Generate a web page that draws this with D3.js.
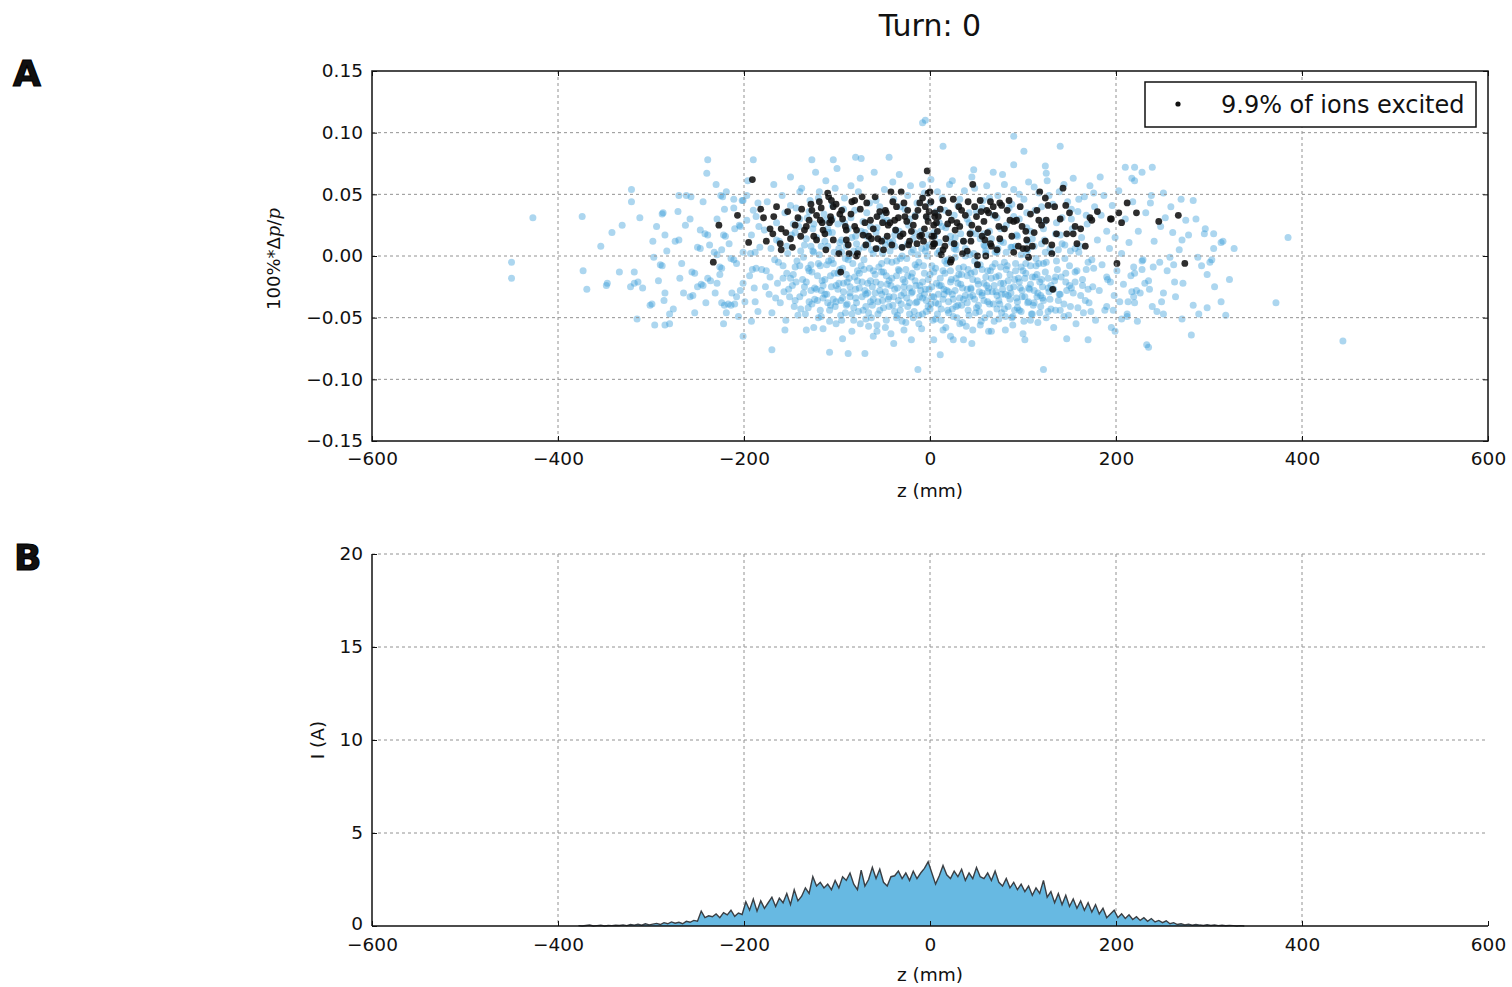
<!DOCTYPE html>
<html>
<head>
<meta charset="utf-8">
<script src="https://cdn.jsdelivr.net/npm/d3@7"></script>
<style>
body{margin:0;background:#fff;}
svg text{font-family:"DejaVu Sans",sans-serif;fill:#111;}
</style>
</head>
<body>
<svg id="chart" width="1512" height="987"></svg>
<script>
// ticks
var zTicks = [-600, -400, -200, 0, 200, 400, 600];
var dpTicks = [-0.15, -0.10, -0.05, 0.00, 0.05, 0.10, 0.15];
var currentTicks = [0, 5, 10, 15, 20];

// all ions, [z (mm), 100%*dp/p]
var ionsAll = [
  [-450,-0.005],[-450,-0.018],[-427,0.031],[-374,0.032],[-373,-0.012],[-369,-0.027],[-354,0.008],[-342,0.019],
  [-348,-0.024],[-347,-0.022],[-331,0.025],[-334,-0.013],[-321,0.054],[-321,0.044],[-312,0.031],[-318,-0.013],
  [-322,-0.025],[-318,-0.022],[-314,-0.021],[-309,-0.026],[-315,-0.051],[-301,-0.040],[-299,-0.039],[-296,-0.056],
  [-285,-0.056],[-280,-0.055],[-280,-0.047],[-286,-0.036],[-285,-0.030],[-294,0.024],[-287,0.035],[-288,0.034],
  [-285,0.017],[-297,-0.001],[-290,-0.007],[-288,-0.008],[-271,0.036],[-263,0.025],[-274,0.012],[-270,0.013],
  [-267,-0.006],[-269,-0.018],[-256,-0.013],[-253,-0.014],[-262,0.049],[-257,0.048],[-244,0.044],[-239,0.078],
  [-240,0.067],[-230,0.058],[-221,0.038],[-225,0.049],[-223,0.048],[-211,0.046],[-202,0.045],[-190,0.078],
  [-242,0.018],[-239,0.017],[-250,0.007],[-247,0.006],[-237,0.009],[-220,0.016],[-222,0.017],[-210,0.022],
  [-205,0.025],[-232,0.003],[-229,0.001],[-214,-0.002],[-211,-0.003],[-224,-0.010],[-226,-0.009],[-239,-0.018],
  [-236,-0.020],[-250,-0.025],[-246,-0.023],[-255,-0.032],[-258,-0.033],[-244,-0.024],[-229,-0.022],[-231,-0.030],
  [-217,-0.039],[-214,-0.040],[-210,-0.039],[-224,-0.038],[-219,-0.046],[-222,-0.055],[-208,-0.033],[-204,-0.028],
  [-201,-0.022],[-201,-0.065],[-192,-0.053],[-188,-0.037],[-191,-0.011],[-187,-0.010],[-193,0.002],[-188,0.003],
  [-197,0.029],[-190,0.037],[-201,0.045],[-197,0.049],[-185,0.043],[-184,0.024],
  [210,0.072],[220,0.072],[228,0.068],[239,0.072],[217,0.063],[220,0.061],[251,0.051],[270,0.046],
  [283,0.045],[238,0.049],[237,0.043],[253,0.031],[261,0.019],[271,0.013],[275,0.029],[295,0.018],
  [305,0.018],[313,0.011],[327,0.006],[305,0.006],[385,0.015],[288,-0.001],[301,-0.005],[303,-0.003],
  [258,-0.001],[262,-0.007],[247,-0.005],[240,-0.009],[229,-0.003],[228,-0.011],[219,-0.009],[220,-0.014],
  [298,-0.015],[322,-0.019],[263,-0.021],[235,-0.020],[231,-0.022],[217,-0.029],[222,-0.028],[226,-0.030],
  [219,-0.033],[251,-0.030],[249,-0.037],[239,-0.041],[213,-0.037],[220,-0.038],[212,-0.047],[206,-0.051],
  [223,-0.053],[251,-0.047],[271,-0.051],[289,-0.047],[298,-0.042],[313,-0.037],[372,-0.038],[281,-0.064],
  [233,-0.072],[235,-0.074],[199,-0.061],[190,-0.017],[194,-0.021],[190,-0.041],[197,-0.044],[444,-0.069],
  [122,-0.092],[90,0.097],[101,0.085],[140,0.089],[-5,0.110],[-8,0.108],[14,0.089],[-127,0.078],
  [-104,0.078],[-80,0.080],[-74,0.079],[-44,0.080],[-108,-0.078],[-88,-0.079],[-70,-0.079],[-13,-0.092],
  [11,-0.080],[-39,-0.071],[-20,-0.068],[-170,-0.076],[-156,-0.060],[-133,-0.060],[-115,-0.059],[-94,-0.067],
  [-61,-0.065],[-57,-0.061],[4,-0.068],[22,-0.065],[36,-0.068],[124,0.073],[125,0.067],[47,0.070],
  [68,0.068],[90,0.074],[183,0.064],[45,-0.071],[25,-0.068],[102,-0.068],[147,-0.067],[170,-0.068],
  [63,-0.061],[81,-0.060],
  [-229,0.030],[-226,-0.015],[-224,0.005],[-221,-0.040],[-219,0.052],[-216,0.010],[-213,-0.030],[-211,0.039],
  [-208,-0.006],[-206,-0.049],[-204,0.024],[-201,0.003],[-199,-0.037],[-196,0.061],[-194,-0.016],[-192,0.017],
  [-189,-0.026],[-187,0.032],[-185,-0.045],[-183,0.007],[-181,-0.011],
  [-178,0.021],[-176,-0.012],[-175,0.044],[-173,-0.031],[-171,0.006],[-170,-0.046],[-168,0.058],[-167,-0.003],
  [-165,0.027],[-164,-0.022],[-162,0.012],[-161,-0.038],[-159,0.049],[-158,-0.008],[-156,0.035],[-155,-0.052],
  [-153,0.002],[-152,-0.027],[-150,0.064],[-149,0.017],[-147,-0.015],[-146,-0.041],[-144,0.039],[-143,-0.004],
  [-141,0.024],[-140,-0.033],[-138,0.055],[-137,-0.019],[-135,0.009],[-134,-0.047],[-132,0.031],[-131,-0.010],
  [-129,0.045],[-128,-0.028],[-126,0.004],[-125,-0.058],[-123,0.068],[-122,0.015],[-121,-0.036],[-120,-0.006],
  [-177,-0.025],[-172,-0.017],[-166,-0.034],[-163,-0.005],[-157,-0.029],[-154,-0.014],[-148,-0.024],[-145,-0.009],
  [-139,-0.043],[-136,-0.001],[-133,-0.021],[-130,-0.037],[-127,-0.013],[-124,-0.026],
  [-119,0.052],[-118,-0.044],[-117,0.008],[-116,-0.020],[-114,0.034],[-113,-0.031],[-112,0.061],[-111,-0.007],
  [-109,0.019],[-108,-0.053],[-107,-0.016],[-105,0.041],[-104,-0.035],[-103,0.003],[-101,-0.024],[-100,0.071],
  [-99,0.026],[-97,-0.011],[-96,-0.048],[-95,0.013],[-93,-0.029],[-92,0.047],[-91,-0.002],[-89,-0.039],
  [-88,0.022],[-87,-0.018],[-85,0.057],[-84,-0.061],[-83,-0.006],[-81,0.037],[-80,-0.027],[-79,0.010],
  [-77,-0.045],[-76,-0.014],[-75,0.063],[-73,-0.033],[-72,0.028],[-71,-0.003],[-69,-0.051],[-68,0.016],
  [-67,-0.022],[-65,0.043],[-64,-0.037],[-63,0.005],[-61,-0.012],[-60,0.068],
  [-117,-0.028],[-110,-0.038],[-106,-0.003],[-102,-0.041],[-98,-0.022],[-94,-0.034],[-90,-0.015],[-86,-0.030],
  [-82,-0.042],[-78,-0.020],[-74,-0.008],[-70,-0.028],[-66,-0.046],[-62,-0.025],
  [-59,-0.030],[-58,0.019],[-57,-0.056],[-55,-0.009],[-54,0.040],[-53,-0.023],[-51,0.002],[-50,-0.042],
  [-49,0.054],[-47,-0.016],[-46,0.029],[-45,-0.035],[-43,0.011],[-42,-0.063],[-41,-0.005],[-39,0.046],
  [-38,-0.027],[-37,0.021],[-35,-0.048],[-34,-0.011],[-33,0.066],[-31,-0.032],[-30,0.007],[-29,-0.019],
  [-27,0.038],[-26,-0.054],[-25,-0.002],[-23,0.025],[-22,-0.038],[-21,0.057],[-19,-0.014],[-18,0.014],
  [-17,-0.045],[-15,-0.024],[-14,0.043],[-13,0.001],[-11,-0.033],[-10,0.020],[-9,-0.059],[-7,-0.008],
  [-6,0.051],[-5,-0.027],[-3,0.031],[-2,-0.041],[-1,0.009],
  [-56,-0.037],[-52,-0.013],[-48,-0.029],[-44,-0.020],[-40,-0.040],[-36,-0.004],[-32,-0.044],[-28,-0.025],
  [-24,-0.016],[-20,-0.030],[-16,-0.007],[-12,-0.048],[-8,-0.021],[-4,-0.036],[0,-0.015],
  [1,0.062],[2,-0.025],[3,-0.052],[5,0.016],[6,-0.010],[7,0.036],[9,-0.039],[10,0.004],
  [11,-0.018],[13,0.047],[14,-0.060],[15,-0.031],[17,0.023],[18,-0.006],[19,-0.044],[21,0.058],
  [22,-0.021],[23,0.011],[25,-0.035],[26,0.033],[27,-0.001],[29,-0.050],[30,0.041],[31,-0.015],
  [33,0.018],[34,-0.040],[35,-0.026],[37,0.053],[38,0.006],[39,-0.057],[41,-0.011],[42,0.027],
  [43,-0.033],[45,0.064],[46,-0.019],[47,0.002],[49,-0.046],[50,0.036],[51,-0.008],[53,-0.029],
  [54,0.014],[55,-0.053],[57,0.045],[58,-0.022],[59,0.008],
  [4,-0.033],[8,-0.047],[12,-0.024],[16,-0.014],[20,-0.029],[24,-0.043],[28,-0.018],[32,-0.034],
  [36,-0.009],[40,-0.038],[44,-0.027],[48,-0.013],[52,-0.040],[56,-0.032],[60,-0.017],
  [61,0.057],[62,-0.037],[64,0.020],[65,-0.012],[66,-0.061],[68,0.033],[69,-0.024],[70,0.003],
  [72,-0.043],[73,0.049],[74,-0.016],[76,0.012],[77,-0.031],[78,0.066],[80,-0.005],[81,-0.049],
  [82,0.025],[84,-0.020],[85,0.039],[86,-0.035],[88,0.007],[89,-0.056],[90,0.054],[92,-0.012],
  [93,0.017],[94,-0.042],[96,0.030],[97,-0.026],[98,0.001],[100,-0.063],[101,0.046],[102,-0.018],
  [104,0.023],[105,-0.038],[106,0.060],[108,-0.008],[109,-0.047],[110,0.014],[112,-0.028],[113,0.037],
  [114,-0.002],[116,-0.054],[117,0.051],[118,-0.021],[120,0.010],
  [63,-0.026],[67,-0.009],[71,-0.029],[75,-0.039],[79,-0.022],[83,-0.008],[87,-0.030],[91,-0.044],
  [95,-0.018],[99,-0.033],[103,-0.006],[107,-0.027],[111,-0.040],[115,-0.015],[119,-0.032],
  [121,-0.034],[123,0.028],[124,-0.013],[126,0.061],[127,-0.045],[129,0.006],[130,-0.024],[132,0.042],
  [133,-0.058],[135,0.018],[136,-0.004],[138,-0.036],[139,0.052],[141,-0.017],[142,0.031],[144,-0.049],
  [145,0.009],[147,-0.028],[148,0.044],[150,-0.008],[151,-0.041],[153,0.022],[154,0.063],[156,-0.021],
  [157,-0.055],[159,0.036],[160,0.003],[162,-0.032],[163,0.015],[165,-0.046],[166,0.048],[168,-0.011],
  [169,0.026],[171,-0.038],[172,0.057],[174,-0.003],[175,-0.025],[177,0.040],[178,-0.052],[180,0.013],
  [122,-0.006],[128,-0.029],[134,-0.020],[140,-0.031],[146,-0.014],[152,-0.026],[158,-0.012],[164,-0.019],
  [170,-0.027],[176,-0.010],
  [182,-0.028],[184,0.033],[185,-0.007],[187,0.049],[188,-0.044],[190,0.020],[191,-0.019],[193,0.006],
  [195,-0.058],[196,0.041],[198,-0.032],[199,0.015],[201,-0.012],[203,0.053],[204,-0.037],[206,0.002],
  [208,-0.023],[210,0.030],[212,-0.049],[214,0.011],[216,-0.016],[218,0.044],
  [224,0.020],[228,-0.004],[232,0.035],[236,-0.027],[241,0.012],[244,-0.045],[248,0.024],[255,-0.012],
  [259,0.040],[264,-0.033],[268,0.005],[272,-0.022],[278,0.017],[283,-0.040],[286,0.030],[292,-0.008],
  [296,0.022],[306,-0.025],[315,0.012],[318,-0.048],
  [-298,0.012],[-292,-0.020],[-283,0.004],[-276,-0.043],[-270,0.049],[-265,-0.030],[-258,0.030],[-253,-0.046],
  [-247,0.021],[-241,-0.038],
  [-158,-0.018],[-154,0.008],[-151,-0.033],[-147,0.026],[-144,-0.021],[-142,-0.048],[-139,0.004],[-136,-0.030],
  [-133,0.014],[-131,-0.042],[-128,-0.007],[-126,0.022],[-124,-0.035],[-121,-0.016],[-119,0.001],[-117,-0.049],
  [-115,-0.024],[-113,0.012],[-111,-0.031],[-109,-0.004],[-107,-0.040],[-105,0.019],[-103,-0.014],[-101,-0.055],
  [-99,-0.027],[-98,0.006],[-96,-0.036],[-94,-0.010],[-92,0.027],[-91,-0.046],[-89,-0.021],[-87,0.000],
  [-86,-0.033],[-84,0.015],[-82,-0.052],[-81,-0.017],[-79,-0.038],[-77,0.005],[-76,-0.026],[-74,0.020],
  [-72,-0.044],[-71,-0.011],[-69,-0.031],[-67,0.010],[-66,-0.057],[-64,-0.020],[-62,-0.040],[-61,0.002],
  [-59,-0.015],[-57,0.023],[-56,-0.047],[-54,-0.028],[-52,-0.006],[-51,-0.036],[-49,0.013],[-47,-0.052],
  [-46,-0.023],[-44,-0.041],[-43,0.004],[-41,-0.018],[-39,-0.033],[-38,0.017],[-36,-0.050],[-35,-0.026],
  [-33,-0.012],[-31,-0.039],[-30,0.000],[-28,-0.060],[-27,-0.021],[-25,-0.034],[-24,0.010],[-22,-0.047],
  [-20,-0.017],[-19,-0.029],[-17,0.019],[-15,-0.038],[-14,-0.009],[-12,-0.055],[-11,-0.024],[-9,0.006],
  [-8,-0.034],[-6,-0.014],[-4,-0.045],[-3,0.000],[-1,-0.027],[1,-0.039],[2,-0.008],[4,0.019],
  [6,-0.051],[7,-0.022],[9,-0.031],[10,0.011],[12,-0.043],[14,-0.012],[15,-0.027],[17,-0.058],
  [19,-0.003],[20,-0.037],[22,0.016],[23,-0.019],[25,-0.049],[27,-0.028],[28,0.005],[30,-0.040],
  [31,-0.010],[33,-0.023],[35,-0.054],[36,0.012],[38,-0.032],[40,-0.016],[41,-0.044],[43,0.001],
  [44,-0.026],[46,-0.060],[48,-0.035],[49,0.018],[51,-0.020],[53,-0.045],[54,-0.007],[56,-0.030],
  [58,0.009],[59,-0.050],[61,-0.024],[62,-0.012],[64,-0.039],[66,0.014],[67,-0.029],[69,-0.053],
  [71,-0.017],[72,0.003],[74,-0.036],[76,-0.022],[77,-0.046],[79,0.011],[81,-0.031],[82,-0.011],
  [84,-0.041],[86,-0.026],[87,0.007],[89,-0.049],[91,-0.019],[93,-0.034],[94,0.016],[96,-0.044],
  [98,-0.009],[99,-0.028],[101,-0.053],[103,-0.014],[105,0.005],[106,-0.037],[108,-0.023],[110,-0.047],
  [112,0.008],[113,-0.017],[115,-0.033],[117,-0.006],[119,-0.041],[121,-0.025],[123,0.013],[125,-0.050],
  [127,-0.018],[129,-0.035],[131,0.002],[133,-0.027],[135,-0.044],[137,-0.011],[139,-0.031],[142,0.010],
  [144,-0.039],[146,-0.021],[149,-0.048],[151,0.004],[154,-0.030],[156,-0.013],[159,-0.042],[161,0.008],
  [164,-0.024],[167,-0.036],[170,-0.005],[173,-0.045],
  [-150,0.041],[-140,0.052],[-130,0.036],[-120,0.047],[-112,0.029],[-102,0.055],[-93,0.038],[-85,0.031],
  [-77,0.052],[-68,0.035],[-58,0.045],[-50,0.028],[-40,0.060],[-32,0.040],[-24,0.049],[-16,0.033],
  [-8,0.058],[0,0.043],[8,0.052],[16,0.037],[24,0.061],[32,0.046],[40,0.030],[48,0.055],
  [56,0.039],[64,0.047],[72,0.031],[80,0.058],[88,0.042],[96,0.050],[104,0.035],[112,0.056],
  [120,0.040],[128,0.049],[136,0.027],[144,0.058],[152,0.038],[160,0.046],[168,0.033],[176,0.051],
  [-145,0.019],[-128,0.008],[-110,0.022],[-95,0.003],[-80,0.016],[-64,0.024],[-48,0.009],[-33,0.020],
  [-18,0.005],[-2,0.017],[13,0.024],[28,0.009],[44,0.019],[60,0.002],[76,0.022],[92,0.008],
  [108,0.020],[124,0.003],[140,0.017],[156,0.006],
  [-130,-0.012],[-127,-0.039],[-125,0.003],[-122,-0.027],[-120,-0.050],[-118,-0.008],[-115,-0.034],[-113,-0.019],
  [-110,0.008],[-108,-0.044],[-106,-0.025],[-104,-0.006],[-101,-0.037],[-99,-0.014],[-97,0.011],[-95,-0.052],
  [-93,-0.022],[-90,-0.040],[-88,-0.003],[-86,-0.025],[-84,-0.047],[-82,0.004],[-80,-0.034],[-78,-0.012],
  [-75,-0.055],[-73,-0.021],[-71,0.007],[-69,-0.041],[-67,-0.030],[-65,-0.010],[-63,-0.050],[-61,-0.035],
  [-58,-0.021],[-56,0.006],[-54,-0.044],[-52,-0.031],[-50,-0.013],[-48,-0.058],[-46,-0.004],[-44,-0.033],
  [-42,-0.024],[-40,0.012],[-38,-0.045],[-36,-0.016],[-34,-0.036],[-32,-0.002],[-30,-0.053],[-28,-0.030],
  [-26,-0.011],[-24,-0.041],[-22,-0.026],[-20,0.003],[-18,-0.050],[-16,-0.020],[-14,-0.037],[-12,-0.005],
  [-10,-0.028],[-8,-0.047],[-6,-0.031],[-4,0.007],[-2,-0.019],[0,-0.043],[2,-0.033],[4,-0.013],
  [6,-0.038],[8,0.002],[10,-0.024],[12,-0.052],[14,-0.035],[16,-0.004],[18,-0.028],[20,-0.046],
  [22,-0.012],[24,-0.031],[26,0.006],[28,-0.041],[30,-0.022],[32,-0.055],[34,-0.015],[36,-0.035],
  [38,0.000],[40,-0.027],[42,-0.048],[44,-0.014],[46,-0.032],[48,-0.004],[50,-0.042],[52,-0.023],
  [54,-0.056],[56,-0.011],[58,-0.036],[60,0.004],[62,-0.029],[64,-0.047],[66,-0.018],[68,-0.039],
  [70,-0.006],[72,-0.032],[74,-0.051],[76,-0.009],[78,-0.027],[80,-0.043],[82,0.003],[84,-0.032],
  [86,-0.015],[88,-0.050],[90,-0.025],[92,-0.006],[94,-0.037],[96,-0.021],[98,-0.045],[100,-0.012],
  [102,-0.033],[104,0.001],[106,-0.026],[108,-0.052],[110,-0.017],[112,-0.038],[114,-0.008],[116,-0.030],
  [118,-0.046],[120,-0.019],[122,-0.036],[125,-0.005],[127,-0.026],[130,-0.043],[-135,-0.025],[-140,-0.008],
  [-145,-0.036],[-150,-0.018],[135,-0.017],[140,-0.044],[145,-0.002],[150,-0.024],
  [-125,0.026],[-105,0.030],[-90,0.008],[-70,0.019],[-52,0.033],[-38,0.008],[-22,0.030],[-5,0.004],
  [10,0.027],[27,0.015],[42,0.035],[58,0.018],[73,0.006],[90,0.032],[105,0.012],[122,0.022],
  [138,0.005],[152,0.030],[-165,0.013],[-140,0.030]
];

// excited ions
var ionsExcited = [
  [-191,0.062],[-207,0.033],[-227,0.025],[-195,0.011],[-233,-0.005],[-3,0.069],[-179,0.031],[-168,0.032],
  [-176,0.012],[-169,0.018],[-160,0.022],[-161,0.010],[-160,0.005],[-153,0.036],[-150,0.014],[-148,0.007],
  [-142,0.031],[-138,0.038],[-139,0.016],[-133,0.024],[-130,0.029],[-127,0.037],[-125,0.016],[-122,0.013],
  [-119,0.044],[-117,0.039],[-118,0.029],[-116,0.027],[-110,0.051],[-109,0.048],[-115,0.021],[-106,0.045],
  [-104,0.040],[-107,0.032],[-106,0.029],[-104,0.013],[-97,0.034],[-95,0.037],[-98,0.002],[-96,-0.013],
  [-91,0.024],[-90,0.021],[-90,0.013],[-87,0.002],[-84,0.044],[-81,0.045],[-81,0.024],[-79,0.021],
  [-78,0.002],[-79,0.000],[-73,0.048],[-70,0.027],[-66,0.016],[-63,0.014],[-59,0.048],[-57,0.032],
  [-56,0.014],[-52,0.012],[-50,0.005],[-48,0.037],[-47,0.035],[-42,0.052],[-45,0.025],[-43,0.027],
  [-41,0.009],[-38,0.029],[-36,0.040],[-31,0.052],[-32,0.016],[-29,0.018],[-27,0.032],[-25,0.028],
  [-22,0.012],[-23,0.009],[-18,0.025],[-13,0.037],[-11,0.043],[-8,0.047],[-9,0.017],[-7,0.012],
  [-2,0.051],[0,0.052],[2,0.016],[4,0.010],[3,0.008],[5,0.032],[7,0.027],[14,0.045],
  [-5,0.040],[-4,0.032],[-2,0.028],[4,0.025],[5,0.035],[9,0.032],[-11,0.016],[4,0.016],
  [5,0.010],[14,0.005],[16,0.008],[22,-0.005],[23,-0.003],[20,0.035],[23,0.029],[27,0.021],
  [29,0.027],[31,0.040],[34,0.037],[36,0.012],[40,0.004],[43,0.018],[45,0.025],[46,0.058],
  [48,0.040],[50,0.032],[51,0.000],[51,-0.007],[54,0.045],[56,0.016],[59,0.013],[61,0.037],
  [63,0.035],[65,0.044],[68,0.040],[65,0.010],[66,0.008],[74,0.024],[75,0.014],[75,0.043],
  [77,0.041],[85,0.045],[86,0.029],[90,0.028],[93,0.029],[95,0.008],[100,0.006],[103,0.020],
  [104,0.013],[104,0.006],[110,0.008],[106,-0.001],[115,0.037],[117,0.029],[118,0.052],[124,0.047],
  [125,0.029],[124,0.012],[131,0.009],[131,0.002],[132,-0.027],[134,0.040],[136,0.018],[143,0.055],
  [146,0.041],[147,0.018],[154,0.018],[156,0.024],[158,0.010],[167,0.008],[172,0.031],[174,0.029],
  [194,0.030],[195,0.030],[203,0.035],[206,0.027],[212,0.043],[222,0.035],[246,0.028],[267,0.033],
  [201,-0.006],[274,-0.006],
  [-135,0.021],[-128,0.042],[-122,0.033],[-113,0.018],[-108,0.027],[-101,0.042],[-94,0.030],[-88,0.009],
  [-85,0.034],[-75,0.038],[-72,0.017],[-68,0.043],[-64,0.029],[-61,0.022],[-54,0.036],[-51,0.027],
  [-46,0.016],[-40,0.044],[-37,0.021],[-34,0.031],[-28,0.043],[-24,0.037],[-20,0.020],[-16,0.032],
  [-14,0.010],[-6,0.022],[-1,0.036],[1,0.044],[8,0.020],[11,0.038],[17,0.014],[19,0.026],
  [25,0.046],[26,0.010],[32,0.024],[38,0.033],[41,0.044],[44,0.012],[52,0.022],[55,0.036],
  [58,0.028],[62,0.019],[70,0.033],[72,0.005],[80,0.022],[83,0.037],[88,0.016],[97,0.040],
  [99,0.024],[108,0.034],[112,0.019],[120,0.025],[127,0.041],[140,0.030],[150,0.035],[162,0.022],
  [180,0.036],[-145,0.025],[-155,0.019],[-172,0.022],[-182,0.038],[-165,0.040],[-58,0.006],[-30,0.007],
  [12,0.001],[35,0.002],[60,0.000],[-112,0.005],[-69,0.009],[90,0.003]
];

// current histogram, 4 mm bins starting at -380 mm
var histStart = -380;
var binWidth = 4;
var currentValues = [
  0.02,0,0.03,0.05,0,0.02,0.04,0,0.03,0.02,
  0.04,0.03,0.06,0.02,0.08,0.05,0.1,0.04,0.12,0.06,
  0.1,0.14,0.08,0.18,0.12,0.22,0.15,0.2,0.12,0.25,
  0.2,0.3,0.26,0.8,0.45,0.55,0.5,0.65,0.45,0.72,
  0.6,0.85,0.52,0.7,0.62,1.3,0.85,1.45,0.8,1.35,
  0.95,1.25,1.55,1.05,1.5,1.25,1.75,1.15,1.95,1.35,
  1.6,2.05,1.75,2.65,2.15,2.35,2.05,2.25,1.95,2.45,
  2.05,2.65,2.45,2.85,2.25,1.95,3.0,2.15,2.5,3.15,
  2.55,3.05,2.35,2.15,2.65,2.7,2.95,2.55,2.85,2.45,
  2.95,2.55,2.85,3.1,3.45,2.85,2.25,2.7,3.25,2.75,
  2.55,2.95,2.65,3.05,2.45,2.85,2.55,3.15,2.65,2.55,
  2.85,2.45,2.95,2.35,2.15,2.55,2.05,2.35,1.95,2.25,
  1.85,2.15,1.65,2.05,1.75,2.45,1.55,1.85,1.25,1.75,
  1.15,1.65,1.05,1.45,0.95,1.35,0.85,1.25,0.75,1.15,
  0.65,0.95,0.45,0.65,0.85,0.45,0.65,0.4,0.6,0.35,
  0.5,0.3,0.45,0.25,0.4,0.22,0.3,0.18,0.28,0.12,
  0.18,0.08,0.12,0.06,0.1,0.04,0.08,0.05,0.03,0.07,
  0.03,0.05,0.02,0.04,0.01,0.03,0.02,0,0.02,0
];

var legendText = "9.9% of ions excited";
var turn = 0;

var svg = d3.select("#chart");
var left = 372, right = 1488;
var topA = 71, botA = 441;
var topB = 554, botB = 926;

var x = d3.scaleLinear().domain([-600, 600]).range([left, right]);
var yA = d3.scaleLinear().domain([-0.15, 0.15]).range([botA, topA]);
var yB = d3.scaleLinear().domain([0, 20]).range([botB, topB]);

var fmtDp = d3.format(".2f");

function grid(g, yScale, yTicks, y0, y1) {
  g.selectAll("line.gx").data(zTicks.slice(1, -1)).enter().append("line")
    .attr("x1", d => x(d)).attr("x2", d => x(d))
    .attr("y1", y0).attr("y2", y1);
  g.selectAll("line.gy").data(yTicks).enter().append("line")
    .attr("x1", left).attr("x2", right)
    .attr("y1", d => yScale(d)).attr("y2", d => yScale(d));
  g.selectAll("line").attr("stroke", "#929292").attr("stroke-width", 1)
    .attr("stroke-dasharray", "3,3");
}

function styleAxis(g) {
  g.select(".domain").remove();
  g.selectAll(".tick line").attr("stroke", "#111").attr("stroke-width", 1);
  g.selectAll(".tick text").attr("font-size", "18.5px").attr("fill", "#222")
    .attr("font-family", "DejaVu Sans, sans-serif");
}

// ----- panel A -----
var gA = svg.append("g");

gA.append("g").selectAll("circle").data(ionsAll).enter().append("circle")
  .attr("cx", d => x(d[0])).attr("cy", d => yA(d[1])).attr("r", 3.5)
  .attr("fill", "#2f98d6").attr("fill-opacity", 0.4);

gA.append("g").selectAll("circle").data(ionsExcited).enter().append("circle")
  .attr("cx", d => x(d[0])).attr("cy", d => yA(d[1])).attr("r", 3.4)
  .attr("fill", "#111").attr("fill-opacity", 0.88);

grid(gA.append("g"), yA, dpTicks.slice(1, -1), topA, botA);

var axA = gA.append("g").attr("transform", `translate(0,${botA})`)
  .call(d3.axisBottom(x).tickValues(zTicks).tickSize(-5).tickPadding(11));
styleAxis(axA);
var axAt = gA.append("g").attr("transform", `translate(0,${topA})`)
  .call(d3.axisTop(x).tickValues(zTicks).tickSize(-5).tickFormat(""));
styleAxis(axAt);
var ayA = gA.append("g").attr("transform", `translate(${left},0)`)
  .call(d3.axisLeft(yA).tickValues(dpTicks).tickSize(-5).tickPadding(9).tickFormat(fmtDp));
styleAxis(ayA);
var ayAr = gA.append("g").attr("transform", `translate(${right},0)`)
  .call(d3.axisRight(yA).tickValues(dpTicks).tickSize(-5).tickFormat(""));
styleAxis(ayAr);

gA.append("rect").attr("x", left).attr("y", topA)
  .attr("width", right - left).attr("height", botA - topA)
  .attr("fill", "none").attr("stroke", "#111").attr("stroke-width", 1.5);

// legend
var leg = gA.append("g").attr("transform", "translate(1145,82)");
leg.append("rect").attr("width", 331).attr("height", 45)
  .attr("fill", "#fff").attr("stroke", "#111").attr("stroke-width", 1.5);
leg.append("circle").attr("cx", 33).attr("cy", 22).attr("r", 2.6).attr("fill", "#111");
leg.append("text").attr("x", 76).attr("y", 31).attr("font-size", "24px").text(legendText);

// labels
svg.append("text").attr("x", 930).attr("y", 36).attr("text-anchor", "middle")
  .attr("font-size", "30px").text("Turn: " + turn);
svg.append("text").attr("x", 13).attr("y", 86).attr("font-size", "36px")
  .attr("font-weight", "900").attr("stroke", "#000").attr("stroke-width", 1.2).text("A");
svg.append("text").attr("x", 14).attr("y", 570).attr("font-size", "36px")
  .attr("font-weight", "900").attr("stroke", "#000").attr("stroke-width", 1.2).text("B");

svg.append("text").attr("x", 930).attr("y", 497).attr("text-anchor", "middle")
  .attr("font-size", "18.5px").text("z (mm)");
svg.append("text").attr("x", 930).attr("y", 981).attr("text-anchor", "middle")
  .attr("font-size", "18.5px").text("z (mm)");

var ylab = svg.append("text").attr("text-anchor", "middle")
  .attr("transform", "translate(280,259) rotate(-90)").attr("font-size", "18px");
ylab.append("tspan").text("100%*Δ");
ylab.append("tspan").attr("font-style", "italic").attr("font-family", "DejaVu Serif, serif").text("p");
ylab.append("tspan").text("/");
ylab.append("tspan").attr("font-style", "italic").attr("font-family", "DejaVu Serif, serif").text("p");

svg.append("text").attr("text-anchor", "middle")
  .attr("transform", "translate(324,740) rotate(-90)").attr("font-size", "18.5px").text("I (A)");

// ----- panel B -----
var gB = svg.append("g");
grid(gB.append("g"), yB, currentTicks.slice(1), topB, botB);

var area = d3.area()
  .x((d, i) => x(histStart + binWidth * (i + 0.5)))
  .y0(yB(0)).y1(d => yB(d));
var line = d3.line()
  .x((d, i) => x(histStart + binWidth * (i + 0.5)))
  .y(d => yB(d));

gB.append("path").datum(currentValues).attr("d", area)
  .attr("fill", "#67b9e2");
gB.append("path").datum(currentValues).attr("d", line)
  .attr("fill", "none").attr("stroke", "#3a3f44").attr("stroke-width", 1.4);

var axB = gB.append("g").attr("transform", `translate(0,${botB})`)
  .call(d3.axisBottom(x).tickValues(zTicks).tickSize(-5).tickPadding(12));
styleAxis(axB);
var ayB = gB.append("g").attr("transform", `translate(${left},0)`)
  .call(d3.axisLeft(yB).tickValues(currentTicks).tickSize(-5).tickPadding(9));
styleAxis(ayB);
ayB.selectAll(".tick text").filter(d => d === 0).attr("dy", "0.2em");

gB.append("line").attr("x1", left).attr("x2", right).attr("y1", botB).attr("y2", botB)
  .attr("stroke", "#111").attr("stroke-width", 1.5);
gB.append("line").attr("x1", left).attr("x2", left).attr("y1", topB).attr("y2", botB)
  .attr("stroke", "#111").attr("stroke-width", 1.5);
</script>
</body>
</html>
